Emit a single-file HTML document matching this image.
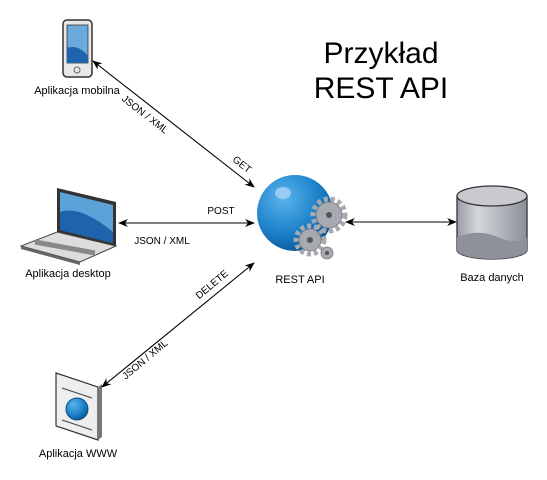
<!DOCTYPE html>
<html><head><meta charset="utf-8"><style>
html,body{margin:0;padding:0;background:#fff;}
svg{display:block;font-family:"Liberation Sans",Arial,sans-serif;}
</style></head><body>
<svg width="547" height="480" viewBox="0 0 547 480" xmlns="http://www.w3.org/2000/svg">
<defs>
<marker id="a" viewBox="0 0 10 10" refX="9" refY="5" markerWidth="9" markerHeight="9" orient="auto-start-reverse"><path d="M0,1 L10,5 L0,9 L3,5 z" fill="#000"/></marker>
<radialGradient id="g" cx="0.35" cy="0.3" r="0.8"><stop offset="0" stop-color="#5ab4ec"/><stop offset="0.6" stop-color="#1a7fc8"/><stop offset="1" stop-color="#0b4f8a"/></radialGradient>
<linearGradient id="cy" x1="0" x2="1"><stop offset="0" stop-color="#9a9ca6"/><stop offset="0.3" stop-color="#d4d6dc"/><stop offset="1" stop-color="#8e9099"/></linearGradient>
</defs>
<text x="381" y="63" font-size="30" text-anchor="middle">Przykład</text>
<text x="381" y="98" font-size="30" text-anchor="middle">REST API</text>

<!-- phone -->
<rect x="63" y="20" width="29" height="57" rx="4" fill="#e8e8ea" stroke="#333" stroke-width="1.5"/>
<rect x="67" y="25" width="21" height="38" fill="#6aa9db" stroke="#333" stroke-width="0.8"/>
<path d="M67,48 Q78,44 88,56 L88,63 L67,63 z" fill="#1d64ad"/>
<circle cx="77" cy="70" r="3" fill="none" stroke="#666"/>
<text x="77" y="94" font-size="11" text-anchor="middle">Aplikacja mobilna</text>

<!-- laptop -->
<path d="M57,188 L116,202 L116,246 L57,232 z" fill="#333"/>
<path d="M60,192 L113,205 L113,243 L60,230 z" fill="#5aa2d8"/>
<path d="M60,212 Q80,205 113,232 L113,243 L60,230 z" fill="#1d64ad"/>
<path d="M57,232 L116,246 L80,262 L21,246 z" fill="#ddd" stroke="#444" stroke-width="1"/>
<path d="M35,242 L95,253" stroke="#888" stroke-width="5"/>
<path d="M21,246 L80,262 L80,265 L21,249 z" fill="#666"/>
<text x="68" y="277" font-size="11" text-anchor="middle">Aplikacja desktop</text>

<!-- www -->
<path d="M56,373 L98,387 L98,440 L56,426 z" fill="#eee" stroke="#333" stroke-width="1.2"/>
<path d="M98,387 L102,384 L102,437 L98,440 z" fill="#777"/>
<line x1="62" y1="388" x2="92" y2="398" stroke="#444"/>
<line x1="62" y1="420" x2="92" y2="430" stroke="#444"/>
<circle cx="77" cy="409" r="11" fill="url(#g)" stroke="#0b4f8a"/>
<text x="78" y="457" font-size="11" text-anchor="middle">Aplikacja WWW</text>

<!-- globe -->
<circle cx="295" cy="213" r="38" fill="url(#g)"/>
<ellipse cx="283" cy="193" rx="8" ry="6" fill="#a9d6f5" opacity="0.8"/>
<g fill="#a8aab2" stroke="#777" stroke-width="0.8">
<circle cx="329" cy="215" r="13"/><circle cx="329" cy="215" r="16" fill="none" stroke="#a8aab2" stroke-width="5" stroke-dasharray="4 3"/>
<circle cx="310" cy="240" r="11"/><circle cx="310" cy="240" r="14" fill="none" stroke="#a8aab2" stroke-width="5" stroke-dasharray="4 3"/>
<circle cx="327" cy="253" r="6"/>
</g>
<circle cx="329" cy="215" r="3" fill="#555"/><circle cx="310" cy="240" r="3" fill="#555"/><circle cx="327" cy="253" r="2" fill="#555"/>
<text x="300" y="283" font-size="11" text-anchor="middle">REST API</text>

<!-- db -->
<path d="M457,196 L457,250 A35,9 0 0 0 527,250 L527,196" fill="url(#cy)" stroke="#333" stroke-width="1.3"/>
<path d="M457,237 Q480,228 500,238 Q515,244 527,238 L527,250 A35,9 0 0 1 457,250 z" fill="#8f919a"/>
<ellipse cx="492" cy="196" rx="35" ry="10" fill="#c8cad0" stroke="#333" stroke-width="1.3"/>
<text x="492" y="281" font-size="11" text-anchor="middle">Baza danych</text>

<!-- connectors -->
<g stroke="#000" stroke-width="1.1" marker-start="url(#a)" marker-end="url(#a)">
<line x1="93" y1="61" x2="254" y2="187"/>
<line x1="119" y1="223" x2="254" y2="223"/>
<line x1="102" y1="387" x2="254" y2="263"/>
<line x1="346" y1="222" x2="456" y2="222"/>
</g>
<g font-size="10">
<text transform="translate(143,117) rotate(38)" text-anchor="middle">JSON / XML</text>
<text transform="translate(240,167) rotate(38)" text-anchor="middle">GET</text>
<text x="221" y="214" text-anchor="middle">POST</text>
<text x="162" y="244" text-anchor="middle">JSON / XML</text>
<text transform="translate(214,287) rotate(-40)" text-anchor="middle">DELETE</text>
<text transform="translate(147,362) rotate(-40)" text-anchor="middle">JSON / XML</text>
</g>
</svg>
</body></html>
